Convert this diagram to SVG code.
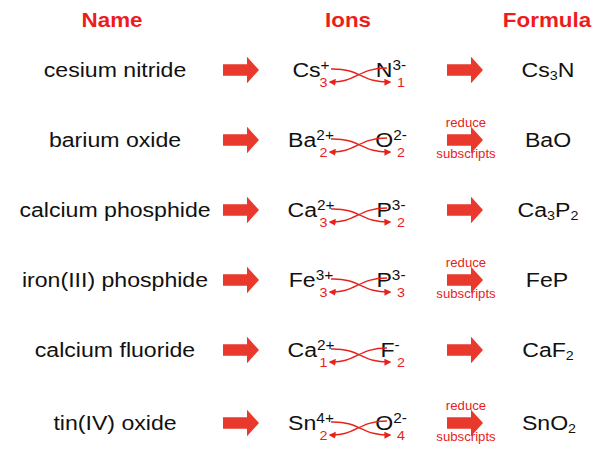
<svg xmlns="http://www.w3.org/2000/svg" width="600" height="460" viewBox="0 0 600 460">
<style>
text{font-family:"Liberation Sans",Arial,Helvetica,sans-serif;text-anchor:middle}
.t{font-size:21px;fill:#111}
.h{font-size:20px;font-weight:bold;fill:#ee1d1d}
.sup{font-size:14px}
.sub{font-size:13px}
.n{font-size:13px;fill:#e8221b}
.r{font-size:12px;fill:#e8221b}
.big{fill:#e8392c}
.cv{fill:none;stroke:#e8221b;stroke-width:1.4;marker-end:url(#ah)}
</style>
<defs>
<polygon id="bigArrow" points="-18,-5.7 6,-5.7 6,-13.3 18,0 6,13.3 6,5.7 -18,5.7"/>
<marker id="ah" viewBox="0 0 10 10" refX="8" refY="5" markerWidth="7" markerHeight="7" orient="auto" markerUnits="userSpaceOnUse">
<path d="M0,0 L10,5 L0,10 z" fill="#e8221b"/>
</marker>
</defs>

<g id="headers">
<text class="h" transform="translate(112,27) scale(1.12,1)">Name</text>
<text class="h" transform="translate(348,27) scale(1.12,1)">Ions</text>
<text class="h" transform="translate(547,27) scale(1.12,1)">Formula</text>
</g>

<g id="names">
<g id="name1"><text class="t" transform="translate(115,77) scale(1.1,1)">cesium nitride</text></g>
<g id="name2"><text class="t" transform="translate(115,147) scale(1.1,1)">barium oxide</text></g>
<g id="name3"><text class="t" transform="translate(115,217) scale(1.1,1)">calcium phosphide</text></g>
<g id="name4"><text class="t" transform="translate(115,287) scale(1.1,1)">iron(III) phosphide</text></g>
<g id="name5"><text class="t" transform="translate(115,357) scale(1.1,1)">calcium fluoride</text></g>
<g id="name6"><text class="t" transform="translate(115,430) scale(1.1,1)">tin(IV) oxide</text></g>
</g>

<g id="ions">
<g id="ions1">
<text class="t" transform="translate(311,77) scale(1.1,1)">Cs<tspan class="sup" dy="-7">+</tspan></text>
<text class="t" transform="translate(391,77) scale(1.1,1)">N<tspan class="sup" dy="-7">3-</tspan></text>
<text class="n" transform="translate(323.5,87) scale(1.1,1)">3</text>
<text class="n" transform="translate(401,87) scale(1.1,1)">1</text>
</g>
<g id="ions2">
<text class="t" transform="translate(311,147) scale(1.1,1)">Ba<tspan class="sup" dy="-7">2+</tspan></text>
<text class="t" transform="translate(391,147) scale(1.1,1)">O<tspan class="sup" dy="-7">2-</tspan></text>
<text class="n" transform="translate(323.5,157) scale(1.1,1)">2</text>
<text class="n" transform="translate(401,157) scale(1.1,1)">2</text>
</g>
<g id="ions3">
<text class="t" transform="translate(311,217) scale(1.1,1)">Ca<tspan class="sup" dy="-7">2+</tspan></text>
<text class="t" transform="translate(391,217) scale(1.1,1)">P<tspan class="sup" dy="-7">3-</tspan></text>
<text class="n" transform="translate(323.5,227) scale(1.1,1)">3</text>
<text class="n" transform="translate(401,227) scale(1.1,1)">2</text>
</g>
<g id="ions4">
<text class="t" transform="translate(311,287) scale(1.1,1)">Fe<tspan class="sup" dy="-7">3+</tspan></text>
<text class="t" transform="translate(391,287) scale(1.1,1)">P<tspan class="sup" dy="-7">3-</tspan></text>
<text class="n" transform="translate(323.5,297) scale(1.1,1)">3</text>
<text class="n" transform="translate(401,297) scale(1.1,1)">3</text>
</g>
<g id="ions5">
<text class="t" transform="translate(311,357) scale(1.1,1)">Ca<tspan class="sup" dy="-7">2+</tspan></text>
<text class="t" transform="translate(390,357) scale(1.1,1)">F<tspan class="sup" dy="-7">-</tspan></text>
<text class="n" transform="translate(323.5,367) scale(1.1,1)">1</text>
<text class="n" transform="translate(401,367) scale(1.1,1)">2</text>
</g>
<g id="ions6">
<text class="t" transform="translate(311,430) scale(1.1,1)">Sn<tspan class="sup" dy="-7">4+</tspan></text>
<text class="t" transform="translate(391,430) scale(1.1,1)">O<tspan class="sup" dy="-7">2-</tspan></text>
<text class="n" transform="translate(323.5,440) scale(1.1,1)">2</text>
<text class="n" transform="translate(401,440) scale(1.1,1)">4</text>
</g>
</g>

<g id="formulas">
<g id="formula1"><text class="t" transform="translate(548,77) scale(1.1,1)">Cs<tspan class="sub" dy="3">3</tspan><tspan dy="-3">N</tspan></text></g>
<g id="formula2"><text class="t" transform="translate(548,147) scale(1.1,1)">BaO</text></g>
<g id="formula3"><text class="t" transform="translate(548,217) scale(1.1,1)">Ca<tspan class="sub" dy="3">3</tspan><tspan dy="-3">P</tspan><tspan class="sub" dy="3">2</tspan></text></g>
<g id="formula4"><text class="t" transform="translate(547,287) scale(1.1,1)">FeP</text></g>
<g id="formula5"><text class="t" transform="translate(548,357) scale(1.1,1)">CaF<tspan class="sub" dy="3">2</tspan></text></g>
<g id="formula6"><text class="t" transform="translate(549,430) scale(1.1,1)">SnO<tspan class="sub" dy="3">2</tspan></text></g>
</g>

<g id="connectors">
<g id="bigArrows" class="big">
<use href="#bigArrow" x="241" y="70"/>
<use href="#bigArrow" x="241" y="140"/>
<use href="#bigArrow" x="241" y="210"/>
<use href="#bigArrow" x="241" y="280"/>
<use href="#bigArrow" x="241" y="350"/>
<use href="#bigArrow" x="241" y="423"/>
<use href="#bigArrow" x="465" y="70"/>
<use href="#bigArrow" x="465" y="140"/>
<use href="#bigArrow" x="465" y="210"/>
<use href="#bigArrow" x="465" y="280"/>
<use href="#bigArrow" x="465" y="350"/>
<use href="#bigArrow" x="465" y="423"/>
</g>
<g id="crossArrows">
<path class="cv" d="M331,69 C360,68 362,83 390,82"/>
<path class="cv" d="M387,68 C358,68 356,83 330,82"/>
<path class="cv" d="M331,139 C360,138 362,153 390,152"/>
<path class="cv" d="M387,138 C358,138 356,153 330,152"/>
<path class="cv" d="M331,209 C360,208 362,223 390,222"/>
<path class="cv" d="M387,208 C358,208 356,223 330,222"/>
<path class="cv" d="M331,279 C360,278 362,293 390,292"/>
<path class="cv" d="M387,278 C358,278 356,293 330,292"/>
<path class="cv" d="M331,349 C360,348 362,363 390,362"/>
<path class="cv" d="M387,348 C358,348 356,363 330,362"/>
<path class="cv" d="M331,422 C360,421 362,436 390,435"/>
<path class="cv" d="M387,421 C358,421 356,436 330,435"/>
</g>
<g id="reduceLabels">
<text class="r" transform="translate(466,127) scale(1.1,1)">reduce</text>
<text class="r" transform="translate(466,158) scale(1.1,1)">subscripts</text>
<text class="r" transform="translate(466,267) scale(1.1,1)">reduce</text>
<text class="r" transform="translate(466,298) scale(1.1,1)">subscripts</text>
<text class="r" transform="translate(466,410) scale(1.1,1)">reduce</text>
<text class="r" transform="translate(466,441) scale(1.1,1)">subscripts</text>
</g>
</g>
</svg>
